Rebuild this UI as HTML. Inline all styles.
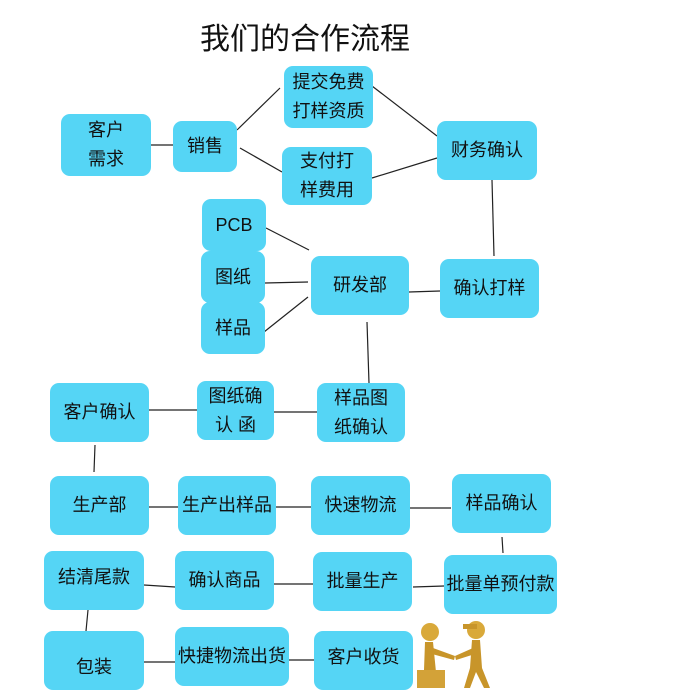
<!DOCTYPE html>
<html><head><meta charset="utf-8"><style>
body{margin:0;width:700px;height:700px;background:#fff;position:relative;overflow:hidden;font-family:"Liberation Sans","Noto Sans CJK SC",sans-serif;}
.b{position:absolute;background:#55d5f5;border-radius:9px;display:flex;align-items:center;justify-content:center;text-align:center;font-size:18px;line-height:29px;color:#111;}
.t{position:absolute;left:200px;top:14px;font-size:30px;color:#111;}
svg{position:absolute;left:0;top:0}
</style></head><body>
<div class="t">我们的合作流程</div>
<svg width="700" height="700" stroke="#222" stroke-width="1.2">
<line x1="151" y1="145" x2="173" y2="145"/>
<line x1="237" y1="130" x2="280" y2="88"/>
<line x1="240" y1="148" x2="282" y2="172"/>
<line x1="372" y1="86" x2="437" y2="136"/>
<line x1="372" y1="178" x2="437" y2="158"/>
<line x1="492" y1="180" x2="494" y2="256"/>
<line x1="409" y1="292" x2="440" y2="291"/>
<line x1="266" y1="228" x2="309" y2="250"/>
<line x1="265" y1="283" x2="308" y2="282"/>
<line x1="264" y1="332" x2="308" y2="297"/>
<line x1="367" y1="322" x2="369" y2="383"/>
<line x1="149" y1="410" x2="197" y2="410"/>
<line x1="274" y1="412" x2="317" y2="412"/>
<line x1="95" y1="445" x2="94" y2="472"/>
<line x1="149" y1="507" x2="178" y2="507"/>
<line x1="276" y1="507" x2="311" y2="507"/>
<line x1="410" y1="508" x2="451" y2="508"/>
<line x1="502" y1="537" x2="503" y2="553"/>
<line x1="144" y1="585" x2="175" y2="587"/>
<line x1="274" y1="584" x2="313" y2="584"/>
<line x1="413" y1="587" x2="444" y2="586"/>
<line x1="88" y1="610" x2="86" y2="631"/>
<line x1="144" y1="662" x2="175" y2="662"/>
<line x1="289" y1="660" x2="314" y2="660"/>
<g stroke="none">
<circle cx="430" cy="632" r="9" fill="#d9a93a"/>
<path d="M425 642 L433 642 L436 672 L442 688 L436 688 L430 674 L426 688 L420 688 L424 670 Z" fill="#c8952a"/>
<path d="M433 648 L455 656 L454 660 L432 654 Z" fill="#c8952a"/>
<rect x="417" y="670" width="28" height="18" fill="#d3a238"/>
<circle cx="476" cy="630" r="9" fill="#d9a93a"/>
<rect x="463" y="624" width="14" height="5" fill="#c8952a"/>
<path d="M472 640 L480 640 L482 668 L490 688 L484 688 L476 672 L470 688 L464 688 L470 668 Z" fill="#c8952a"/>
<path d="M473 648 L455 656 L456 660 L475 654 Z" fill="#c8952a"/>
</g>
</svg>
<div class="b" style="left:61px;top:114px;width:90px;height:62px">客户<br>需求</div>
<div class="b" style="left:173px;top:121px;width:64px;height:51px">销售</div>
<div class="b" style="left:284px;top:66px;width:89px;height:62px">提交免费<br>打样资质</div>
<div class="b" style="left:282px;top:147px;width:90px;height:58px">支付打<br>样费用</div>
<div class="b" style="left:437px;top:121px;width:100px;height:59px">财务确认</div>
<div class="b" style="left:440px;top:259px;width:99px;height:59px">确认打样</div>
<div class="b" style="left:202px;top:199px;width:64px;height:52px">PCB</div>
<div class="b" style="left:201px;top:251px;width:64px;height:52px">图纸</div>
<div class="b" style="left:201px;top:302px;width:64px;height:52px">样品</div>
<div class="b" style="left:311px;top:256px;width:98px;height:59px">研发部</div>
<div class="b" style="left:50px;top:383px;width:99px;height:59px">客户确认</div>
<div class="b" style="left:197px;top:381px;width:77px;height:59px">图纸确<br>认 函</div>
<div class="b" style="left:317px;top:383px;width:88px;height:59px">样品图<br>纸确认</div>
<div class="b" style="left:50px;top:476px;width:99px;height:59px">生产部</div>
<div class="b" style="left:178px;top:476px;width:98px;height:59px">生产出样品</div>
<div class="b" style="left:311px;top:476px;width:99px;height:59px">快速物流</div>
<div class="b" style="left:452px;top:474px;width:99px;height:59px">样品确认</div>
<div class="b" style="left:44px;top:551px;width:100px;height:59px;align-items:flex-start;padding-top:12px;box-sizing:border-box">结清尾款</div>
<div class="b" style="left:175px;top:551px;width:99px;height:59px">确认商品</div>
<div class="b" style="left:313px;top:552px;width:99px;height:59px">批量生产</div>
<div class="b" style="left:444px;top:555px;width:113px;height:59px">批量单预付款</div>
<div class="b" style="left:44px;top:631px;width:100px;height:59px;align-items:flex-end;padding-bottom:8px;box-sizing:border-box">包装</div>
<div class="b" style="left:175px;top:627px;width:114px;height:59px">快捷物流出货</div>
<div class="b" style="left:314px;top:631px;width:99px;height:59px;align-items:flex-start;padding-top:12px;box-sizing:border-box">客户收货</div>
</body></html>
